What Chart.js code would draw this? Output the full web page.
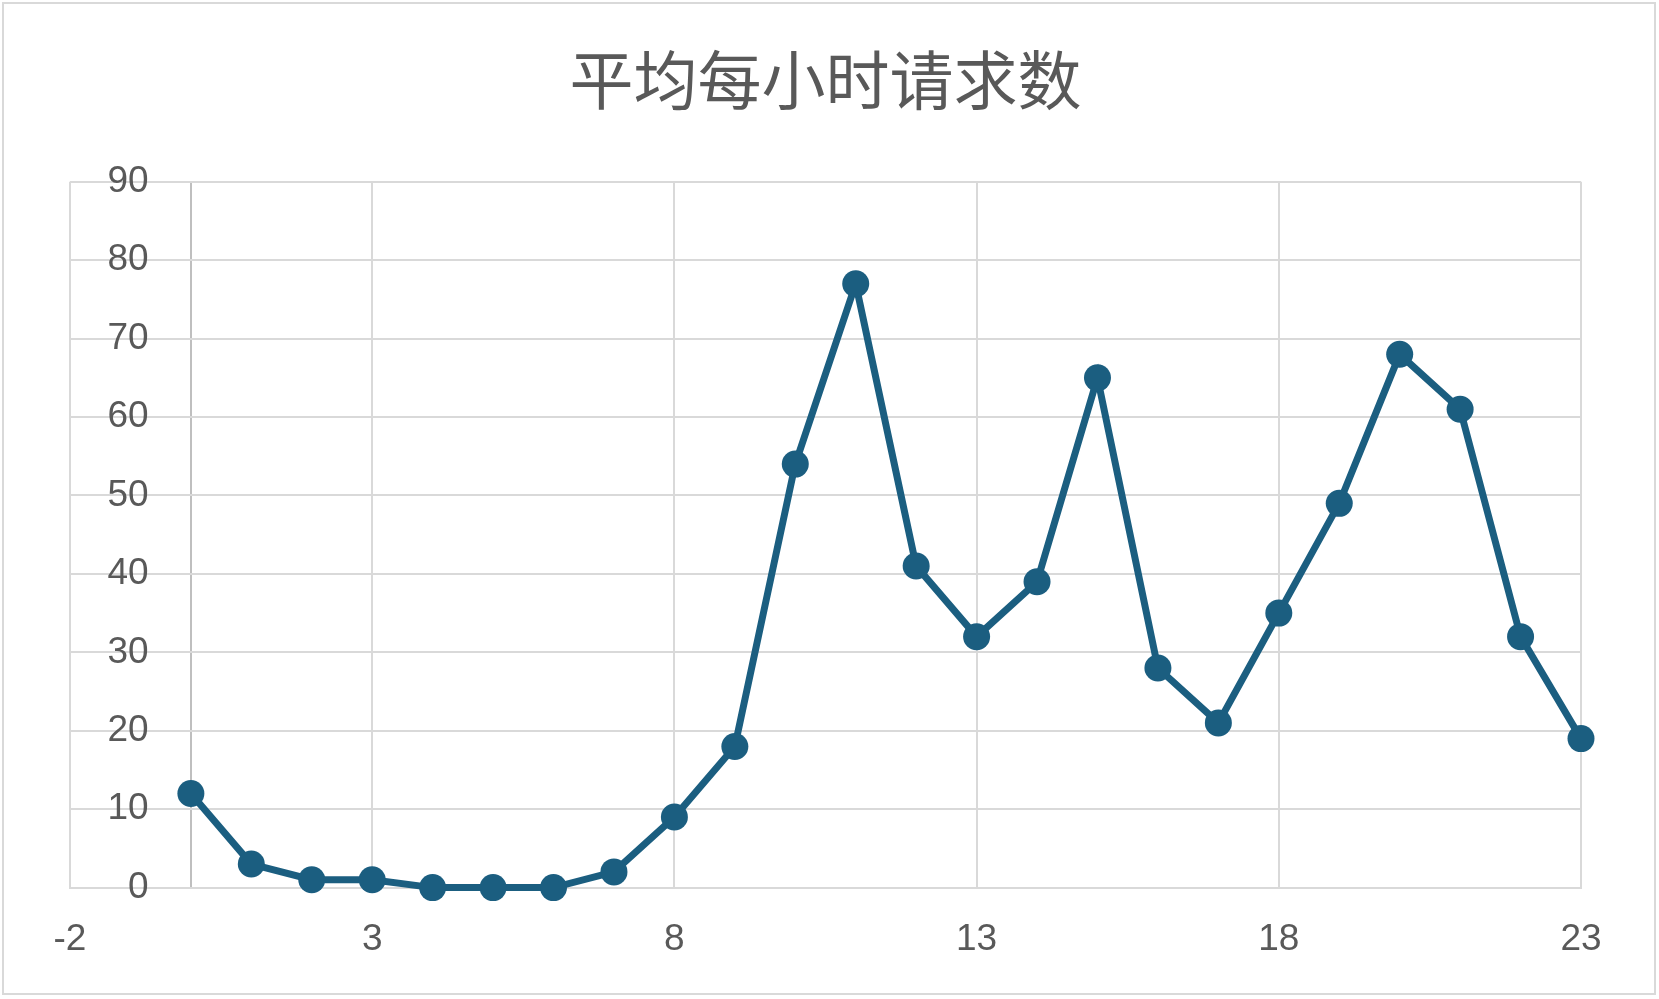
<!DOCTYPE html>
<html>
<head>
<meta charset="utf-8">
<script src="https://cdn.jsdelivr.net/npm/chart.js@4"></script>
<style>
    html, body { margin: 0; padding: 0; background: #ffffff; }
    #wrap { width: 1659px; height: 999px; }
</style>
</head>
<body>
<div id="wrap"><canvas id="hourChart" width="1659" height="999"></canvas></div>
<script>
// chart data
const chartTitle = "平均每小时请求数";
const hours = [0, 1, 2, 3, 4, 5, 6, 7, 8, 9, 10, 11, 12, 13, 14, 15, 16, 17, 18, 19, 20, 21, 22, 23];
const requests = [12, 3, 1, 1, 0, 0, 0, 2, 9, 18, 54, 77, 41, 32, 39, 65, 28, 21, 35, 49, 68, 61, 32, 19];
const xTicks = [-2, 3, 8, 13, 18, 23];
const yTicks = [0, 10, 20, 30, 40, 50, 60, 70, 80, 90];
const yAxisCross = 0; // vertical axis line sits at x = 0
const yLabelAnchor = -0.7; // y tick labels end a little left of that line

const gray = "#595959";
const gridColor = "#d9d9d9";
const axisColor = "#bfbfbf";
const lineColor = "#1b5e80";

// light frame round the whole chart
const framePlugin = {
    id: "frame",
    beforeDraw(chart) {
        const c = chart.ctx;
        c.save();
        c.fillStyle = "#ffffff";
        c.fillRect(0, 0, chart.width, chart.height);
        c.strokeStyle = gridColor;
        c.lineWidth = 2;
        c.strokeRect(3, 3, chart.width - 7, chart.height - 8);
        c.restore();
    },
};

document.addEventListener("DOMContentLoaded", function () {
    const ctx = document.getElementById("hourChart").getContext("2d");

    new Chart(ctx, {
        type: "scatter",
        data: {
            datasets: [
                {
                    label: chartTitle,
                    data: hours.map((h, i) => ({ x: h, y: requests[i] })),
                    showLine: true,
                    clip: false,
                    borderColor: lineColor,
                    backgroundColor: lineColor,
                    borderWidth: 7,
                    pointRadius: 13.5,
                    pointHoverRadius: 13.5,
                    pointBorderWidth: 0,
                },
            ],
        },
        options: {
            responsive: false,
            animation: false,
            devicePixelRatio: 1,
            layout: {
                padding: { left: 70, right: 78, top: 0, bottom: 7 },
            },
            plugins: {
                legend: { display: false },
                tooltip: { enabled: false },
                title: {
                    display: true,
                    text: chartTitle,
                    color: gray,
                    font: { family: "'Noto Sans CJK SC', sans-serif", size: 64, weight: "normal" },
                    padding: { top: 41, bottom: 64 },
                },
            },
            scales: {
                x: {
                    type: "linear",
                    position: "bottom",
                    min: xTicks[0],
                    max: xTicks[xTicks.length - 1],
                    afterBuildTicks: (axis) => {
                        axis.ticks = xTicks.concat([yAxisCross]).map((v) => ({ value: v }));
                    },
                    grid: {
                        color: (c) => (c.tick && c.tick.value === yAxisCross ? axisColor : gridColor),
                        lineWidth: 2,
                        drawTicks: false,
                    },
                    border: { color: gridColor, width: 2 },
                    ticks: {
                        color: gray,
                        padding: 30,
                        maxRotation: 0,
                        autoSkip: false,
                        callback: (v) => (xTicks.includes(v) ? String(v) : ""),
                        font: { family: "'Liberation Sans', sans-serif", size: 37 },
                    },
                },
                y: {
                    type: "linear",
                    position: { x: yLabelAnchor },
                    min: yTicks[0],
                    max: yTicks[yTicks.length - 1],
                    afterBuildTicks: (axis) => { axis.ticks = yTicks.map((v) => ({ value: v })); },
                    grid: { color: gridColor, lineWidth: 2, drawTicks: false },
                    border: { display: false },
                    ticks: {
                        color: gray,
                        font: { family: "'Liberation Sans', sans-serif", size: 37 },
                    },
                },
            },
        },
        plugins: [framePlugin],
    });
});
</script>
</body>
</html>
